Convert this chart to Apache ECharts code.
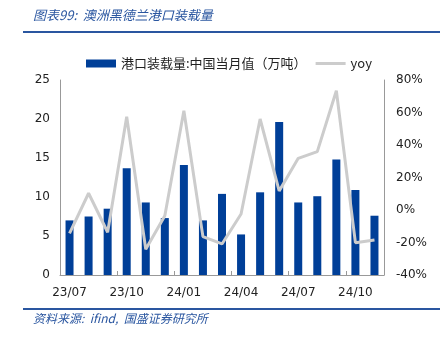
<!DOCTYPE html>
<html>
<head>
<meta charset="utf-8">
<script src="https://cdn.jsdelivr.net/npm/echarts@6/dist/echarts.min.js"></script>
<style>
  html, body { margin: 0; padding: 0; background: #fff; }
  #chart { width: 444px; height: 343px; }
</style>
</head>
<body>
<div id="chart"></div>
<script>
// Monthly categories, 2023-07 to 2024-11
const months = ['23/07','23/08','23/09','23/10','23/11','23/12','24/01','24/02','24/03',
                '24/04','24/05','24/06','24/07','24/08','24/09','24/10','24/11'];
// Port Hedland loadings to China, monthly (10k tonnes)
const loadings = [7.0, 7.5, 8.5, 13.7, 9.3, 7.3, 14.1, 7.0, 10.4, 5.2, 10.6, 19.6, 9.3, 10.1, 14.8, 10.9, 7.6];
// Year-over-year change (%)
const yoy = [-14.4, 10.3, -13.7, 57.4, -24.2, -3.5, 61.1, -16.4, -20.9, -2.5, 56.0, 11.7, 31.8, 35.9, 73.4, -20.1, -18.5];

const barName = '港口装载量:中国当月值（万吨）';
const lineName = 'yoy';
const blue = '#003f98';
const titleBlue = '#2a56a0';
const cjk = '"Noto Sans CJK SC", "DejaVu Sans", sans-serif';
const latin = 'Tahoma, "DejaVu Sans", "Noto Sans", sans-serif';

const chart = echarts.init(document.getElementById('chart'), null, { renderer: 'canvas' });
chart.setOption({
  animation: false,
  backgroundColor: '#fff',
  grid: { left: 60, right: 60, top: 80, bottom: 68, containLabel: false },
  legend: {
    left: 81, top: 52,
    itemGap: 9,
    itemWidth: 30, itemHeight: 8,
    textStyle: { fontFamily: cjk, fontSize: 13, color: '#222' },
    data: [
      { name: barName, icon: 'rect' },
      { name: lineName, icon: 'path://M0,0 H30 V3 H0 Z' }
    ]
  },
  xAxis: {
    type: 'category',
    data: months,
    boundaryGap: true,
    axisLine: { lineStyle: { color: '#999', width: 1 } },
    axisTick: { show: true, inside: true, length: 4, interval: 2, lineStyle: { color: '#999' } },
    axisLabel: { interval: 2, color: '#222', fontSize: 12, fontFamily: latin, margin: 12 }
  },
  yAxis: [
    {
      type: 'value', min: 0, max: 25, interval: 5,
      axisLine: { show: true, lineStyle: { color: '#999' } },
      axisTick: { show: false },
      splitLine: { show: false },
      axisLabel: { color: '#222', fontSize: 12, fontFamily: latin, margin: 10 }
    },
    {
      type: 'value', min: -40, max: 80, interval: 20,
      axisLine: { show: true, lineStyle: { color: '#999' } },
      axisTick: { show: false },
      splitLine: { show: false },
      axisLabel: { color: '#222', fontSize: 12, fontFamily: latin, margin: 12, formatter: '{value}%' }
    }
  ],
  series: [
    {
      name: barName,
      type: 'bar',
      data: loadings,
      barWidth: 8,
      itemStyle: { color: blue }
    },
    {
      name: lineName,
      type: 'line',
      yAxisIndex: 1,
      data: yoy,
      symbol: 'none',
      lineStyle: { color: '#cccccc', width: 3 },
      itemStyle: { color: '#cccccc' }
    }
  ],
  graphic: [
    {
      type: 'text', left: 33, top: 9,
      style: { text: '图表99:  澳洲黑德兰港口装载量', fill: titleBlue,
               font: 'italic 13px ' + cjk }
    },
    {
      type: 'rect', shape: { x: 23, y: 31, width: 417, height: 2 },
      style: { fill: titleBlue }
    },
    {
      type: 'rect', shape: { x: 23, y: 308, width: 417, height: 2 },
      style: { fill: titleBlue }
    },
    {
      type: 'text', left: 33, top: 312,
      style: { text: '资料来源:  ifind,  国盛证券研究所', fill: titleBlue,
               font: 'italic 12px ' + cjk }
    }
  ]
});
</script>
</body>
</html>
